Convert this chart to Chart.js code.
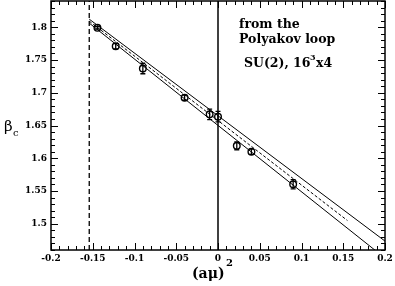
<!DOCTYPE html>
<html>
<head>
<meta charset="utf-8">
<script src="https://cdn.jsdelivr.net/npm/chart.js@4.4.0/dist/chart.umd.min.js"></script>
<style>
    html, body { margin: 0; padding: 0; background: #fff; }
    #wrap { width: 395px; height: 286px; }
</style>
</head>
<body>
<div id="wrap"><canvas id="chart" width="395" height="286"></canvas></div>
<script>
// Simulation points: (a mu)^2, critical beta and its error
const muSquared = [-0.1444, -0.1225, -0.09, -0.04, -0.01, 0.0, 0.0225, 0.04, 0.09];
const betaC = [1.799, 1.771, 1.737, 1.6925, 1.667, 1.6635, 1.619, 1.610, 1.5603];
const betaErr = [0.002, 0.004, 0.008, 0.004, 0.008, 0.008, 0.006, 0.004, 0.007];

// Linear fit (dashed) and its error band, read at the end points
const fitX = [-0.1542, 0.155];
const fitY = [1.8093, 1.505];
const bandX = [-0.1542, 0.2];
const bandUpper = [1.8123, 1.4736];
const bandLower = [1.8063, 1.4476];

// Vertical reference lines
const rwLine = -0.1542;
const zeroLine = 0;

// Axes
const xRange = [-0.2, 0.2];
const yRange = [1.46, 1.84];
const xTicks = [-0.2, -0.15, -0.1, -0.05, 0, 0.05, 0.1, 0.15, 0.2];
const yTicks = [1.5, 1.55, 1.6, 1.65, 1.7, 1.75, 1.8];

const FONT = "'DejaVu Serif', serif";

function pairs(xs, ys) {
    return xs.map((x, i) => ({ x: x, y: ys[i] }));
}

// frame, inward ticks on all sides, error bars and the texts
const decorations = {
    id: 'decorations',
    afterDatasetsDraw(chart) {
        const { ctx, chartArea: a } = chart;
        const xs = chart.scales.x;
        const ys = chart.scales.y;
        ctx.save();
        ctx.strokeStyle = '#000';
        ctx.fillStyle = '#000';

        // error bars
        ctx.lineWidth = 1.3;
        muSquared.forEach((m, i) => {
            const px = xs.getPixelForValue(m);
            const t = ys.getPixelForValue(betaC[i] + betaErr[i]);
            const b = ys.getPixelForValue(betaC[i] - betaErr[i]);
            ctx.beginPath();
            ctx.moveTo(px, t); ctx.lineTo(px, b);
            ctx.moveTo(px - 2.5, t); ctx.lineTo(px + 2.5, t);
            ctx.moveTo(px - 2.5, b); ctx.lineTo(px + 2.5, b);
            ctx.stroke();
        });

        // ticks, minor every 0.01
        ctx.lineWidth = 1;
        for (let i = -20; i <= 20; i++) {
            const px = Math.round(xs.getPixelForValue(i / 100)) + 0.5;
            const len = i % 5 === 0 ? 7 : 4;
            ctx.beginPath();
            ctx.moveTo(px, a.bottom); ctx.lineTo(px, a.bottom - len);
            ctx.moveTo(px, a.top); ctx.lineTo(px, a.top + len);
            ctx.stroke();
        }
        for (let i = 146; i <= 184; i++) {
            const py = Math.round(ys.getPixelForValue(i / 100)) + 0.5;
            const len = i % 5 === 0 ? 7 : 4;
            ctx.beginPath();
            ctx.moveTo(a.left, py); ctx.lineTo(a.left + len, py);
            ctx.moveTo(a.right, py); ctx.lineTo(a.right - len, py);
            ctx.stroke();
        }

        ctx.lineWidth = 1.5;
        ctx.strokeRect(a.left, a.top, a.right - a.left, a.bottom - a.top);

        // annotation
        ctx.textAlign = 'left';
        ctx.textBaseline = 'alphabetic';
        ctx.font = 'bold 12.5px ' + FONT;
        ctx.fillText('from the', 239, 28);
        ctx.fillText('Polyakov loop', 239, 43);
        ctx.fillText('SU(2),', 244, 67);
        ctx.fillText('16', 293, 67);
        ctx.fillText('x4', 316, 67);
        ctx.font = 'bold 8px ' + FONT;
        ctx.fillText('3', 310, 60);

        // axis titles
        ctx.font = '15px ' + FONT;
        ctx.fillText('\u03b2', 4, 131);
        ctx.font = '10px ' + FONT;
        ctx.fillText('c', 13, 136);
        ctx.font = 'bold 14px ' + FONT;
        ctx.fillText('(a\u03bc)', 192, 278);
        ctx.font = 'bold 10px ' + FONT;
        ctx.fillText('2', 226, 266);
        ctx.restore();
    }
};

function fixWidth(size, vertical) {
    return s => {
        if (vertical) s.width = size; else s.height = size;
        s.paddingTop = 0;
        s.paddingBottom = 0;
        s.paddingLeft = 0;
        s.paddingRight = 0;
    };
}

new Chart(document.getElementById('chart'), {
    type: 'scatter',
    data: {
        datasets: [
            {
                label: 'zero',
                data: pairs([zeroLine, zeroLine], yRange),
                showLine: true,
                borderColor: '#000',
                borderWidth: 1.5,
                pointRadius: 0
            },
            {
                label: 'rw',
                data: pairs([rwLine, rwLine], yRange),
                showLine: true,
                borderColor: '#000',
                borderWidth: 1.3,
                borderDash: [5, 3],
                pointRadius: 0
            },
            {
                label: 'upper',
                data: pairs(bandX, bandUpper),
                showLine: true,
                borderColor: '#000',
                borderWidth: 1,
                pointRadius: 0
            },
            {
                label: 'lower',
                data: pairs(bandX, bandLower),
                showLine: true,
                borderColor: '#000',
                borderWidth: 1,
                pointRadius: 0
            },
            {
                label: 'fit',
                data: pairs(fitX, fitY),
                showLine: true,
                borderColor: '#000',
                borderWidth: 1,
                borderDash: [3, 2],
                pointRadius: 0
            },
            {
                label: 'beta_c',
                data: pairs(muSquared, betaC),
                pointStyle: 'circle',
                pointRadius: 3.3,
                pointBorderWidth: 1.4,
                pointBorderColor: '#000',
                pointBackgroundColor: 'rgba(0,0,0,0)'
            }
        ]
    },
    options: {
        responsive: false,
        animation: false,
        devicePixelRatio: 1,
        layout: { autoPadding: false, padding: { top: 1, right: 10, left: 0, bottom: 0 } },
        plugins: { legend: { display: false }, tooltip: { enabled: false } },
        scales: {
            x: {
                type: 'linear',
                min: xRange[0],
                max: xRange[1],
                afterBuildTicks: s => { s.ticks = xTicks.map(v => ({ value: v })); },
                afterFit: fixWidth(36, false),
                grid: { display: false, drawTicks: false },
                border: { display: false },
                ticks: {
                    color: '#000',
                    padding: 3,
                    maxRotation: 0,
                    font: { family: FONT, size: 9, weight: 'bold' },
                    callback: v => String(Math.round(v * 100) / 100)
                }
            },
            y: {
                type: 'linear',
                min: yRange[0],
                max: yRange[1],
                afterBuildTicks: s => { s.ticks = yTicks.map(v => ({ value: v })); },
                afterFit: fixWidth(51, true),
                grid: { display: false, drawTicks: false },
                border: { display: false },
                ticks: {
                    color: '#000',
                    padding: 4,
                    font: { family: FONT, size: 9, weight: 'bold' },
                    callback: v => String(Math.round(v * 100) / 100)
                }
            }
        }
    },
    plugins: [decorations]
});
</script>
</body>
</html>
